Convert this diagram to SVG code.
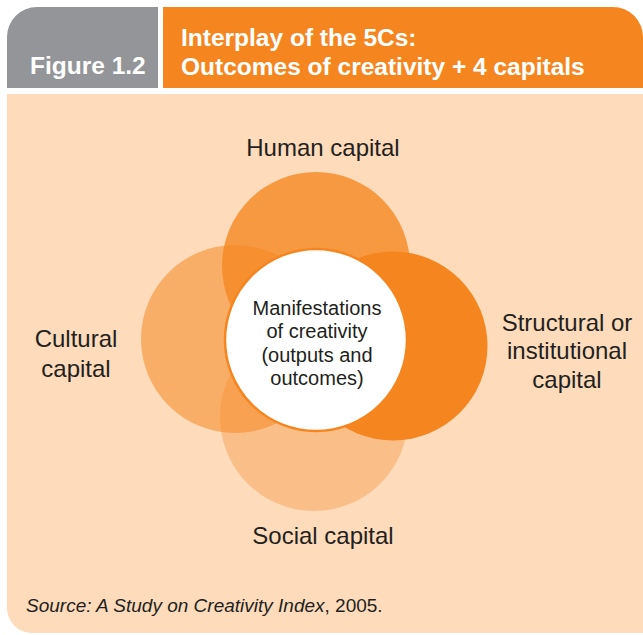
<svg xmlns="http://www.w3.org/2000/svg" width="643" height="635" viewBox="0 0 643 635">
<style>
.lbl{font-family:"Liberation Sans",Arial,sans-serif;font-size:24px;fill:#231F20;text-anchor:middle}
.ctr{font-family:"Liberation Sans",Arial,sans-serif;font-size:20px;fill:#231F20;text-anchor:middle}
.hdr{font-family:"Liberation Sans",Arial,sans-serif;font-weight:bold;font-size:24.5px;fill:#FFFFFF}
.src{font-family:"Liberation Sans",Arial,sans-serif;font-size:19px;fill:#231F20}
</style>
<rect width="643" height="635" fill="#FFFFFF"/>
<g id="header">
<path d="M7,88 V37 A30,30 0 0 1 37,7 H158 V88 Z" fill="#939598"/>
<path d="M163,7 H613 A30,30 0 0 1 643,37 V88 H163 Z" fill="#F5861F"/>
<text class="hdr" x="30" y="74" font-size="22.5">Figure 1.2</text>
<text class="hdr" x="181" y="46">Interplay of the 5Cs:</text>
<text class="hdr" x="181" y="75">Outcomes of creativity + 4 capitals</text>
</g>
<path d="M7,94 H643 V633 H32 A25,25 0 0 1 7,608 Z" fill="#FDDBBB"/>
<g id="social"><circle cx="314" cy="417" r="94" fill="#F5861F" fill-opacity="0.32"/></g>
<g id="cultural"><circle cx="235" cy="339" r="94" fill="#F5861F" fill-opacity="0.53"/></g>
<g id="human"><circle cx="316" cy="266" r="94" fill="#F5861F" fill-opacity="0.78"/></g>
<g id="structural"><circle cx="393" cy="346" r="94.5" fill="#F5861F"/></g>
<g id="center">
<circle cx="316" cy="340" r="91" fill="#FFFFFF" stroke="#F5861F" stroke-width="2.5"/>
<text class="ctr" x="317" y="315">Manifestations</text>
<text class="ctr" x="317" y="338">of creativity</text>
<text class="ctr" x="317" y="362">(outputs and</text>
<text class="ctr" x="317" y="385">outcomes)</text>
</g>
<g id="labels">
<text class="lbl" x="323" y="156">Human capital</text>
<text class="lbl" x="76" y="347">Cultural</text>
<text class="lbl" x="76" y="377">capital</text>
<text class="lbl" x="567" y="331">Structural or</text>
<text class="lbl" x="567" y="359">institutional</text>
<text class="lbl" x="567" y="388">capital</text>
<text class="lbl" x="323" y="544">Social capital</text>
</g>
<g id="connectors"/>
<text class="src" x="26" y="612"><tspan font-style="italic">Source: A Study on Creativity Index</tspan>, 2005.</text>
</svg>
